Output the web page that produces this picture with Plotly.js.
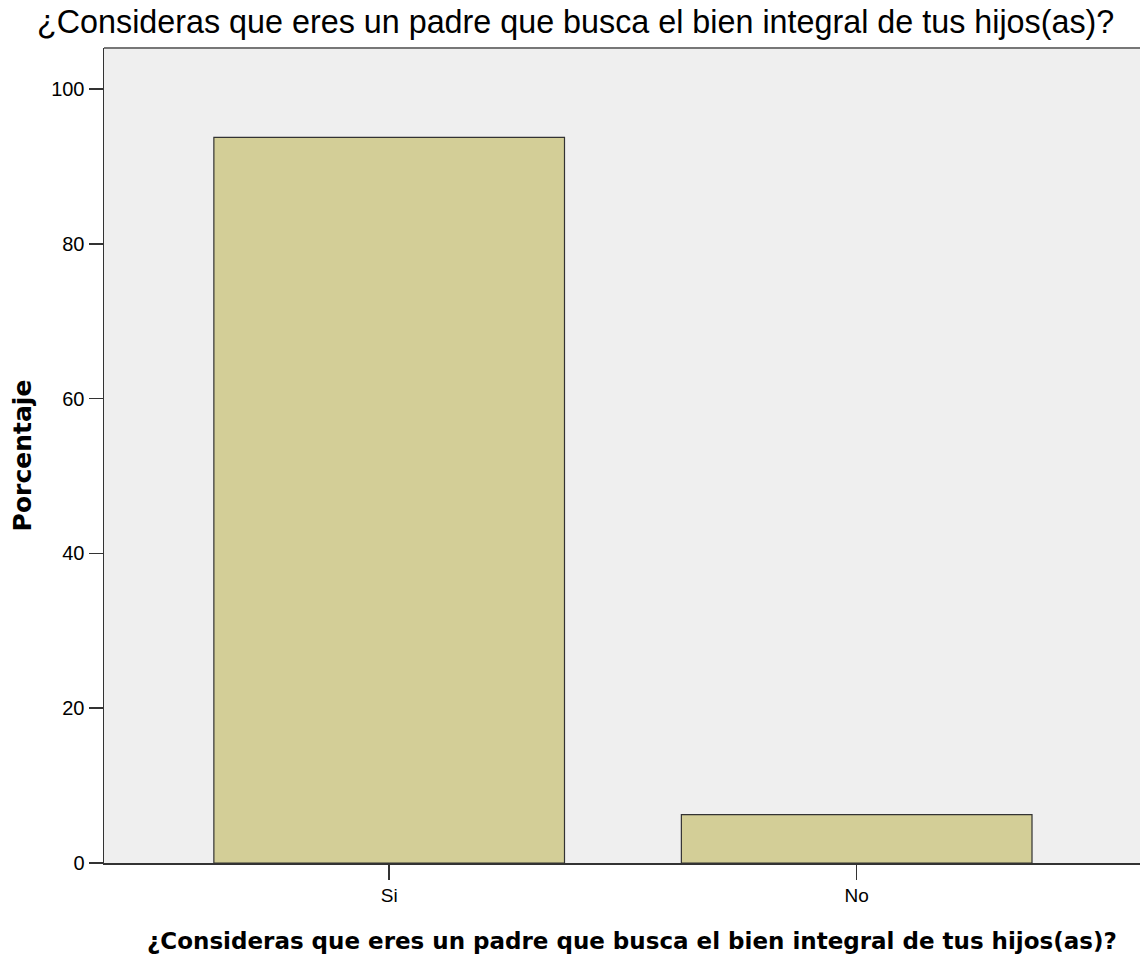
<!DOCTYPE html>
<html>
<head>
<meta charset="utf-8">
<script src="https://cdn.plot.ly/plotly-3.0.1.min.js"></script>
<style>html,body{margin:0;padding:0;background:#fff;}#chart{width:1140px;height:960px;}</style>
</head>
<body>
<div id="chart"></div>
<script>
const categories = ["Si", "No"];
const percentages = [93.75, 6.25];
const yTicks = [0, 20, 40, 60, 80, 100];
const chartTitle = "¿Consideras que eres un padre que busca el bien integral de tus hijos(as)?";
const yTitle = "Porcentaje";

const trace = {
  type: "bar",
  x: categories,
  y: percentages,
  width: 0.75,
  marker: {color: "#D3CE97", line: {color: "#333333", width: 1.2}},
  hoverinfo: "x+y"
};

const layout = {
  width: 1140,
  height: 960,
  margin: {l: 104, r: 0, t: 48, b: 97},
  paper_bgcolor: "#ffffff",
  plot_bgcolor: "#EFEFEF",
  showlegend: false,
  title: {
    text: chartTitle,
    font: {family: "Liberation Sans, Arial", size: 32.3, color: "#000", weight: 500},
    x: 0.0325, xanchor: "left", y: 0.977, yanchor: "middle"
  },
  xaxis: {
    type: "category",
    range: [-0.61, 1.606],
    showline: true, linecolor: "#333", linewidth: 1.5,
    ticks: "outside", ticklen: 15, tickcolor: "#333", tickwidth: 1.5,
    tickfont: {family: "Liberation Sans, Arial", size: 19, color: "#000"},
    showgrid: false, zeroline: false
  },
  yaxis: {
    range: [0, 105.3],
    tickvals: yTicks,
    ticktext: yTicks.map(String),
    showline: true, linecolor: "#333", linewidth: 1.5,
    ticks: "outside", ticklen: 14, tickcolor: "#333", tickwidth: 1.5,
    tickfont: {family: "Liberation Sans, Arial", size: 20, color: "#000"},
    showgrid: false, zeroline: false,
    title: {text: "<b>" + yTitle + "</b>", standoff: 12,
      font: {family: "DejaVu Sans", size: 25, color: "#000"}}
  },
  annotations: [
    {text: "<b>" + chartTitle + "</b>", xref: "paper", yref: "paper",
     x: 0.5097, y: -0.0957, xanchor: "center", yanchor: "middle", showarrow: false,
     font: {family: "DejaVu Sans", size: 23, color: "#000"}}
  ],
  shapes: [
    {type: "line", xref: "paper", yref: "paper", x0: 0, x1: 1, y0: 1, y1: 1,
     line: {color: "#777", width: 2}}
  ]
};

Plotly.newPlot("chart", [trace], layout, {displayModeBar: false, staticPlot: true});
</script>
</body>
</html>
